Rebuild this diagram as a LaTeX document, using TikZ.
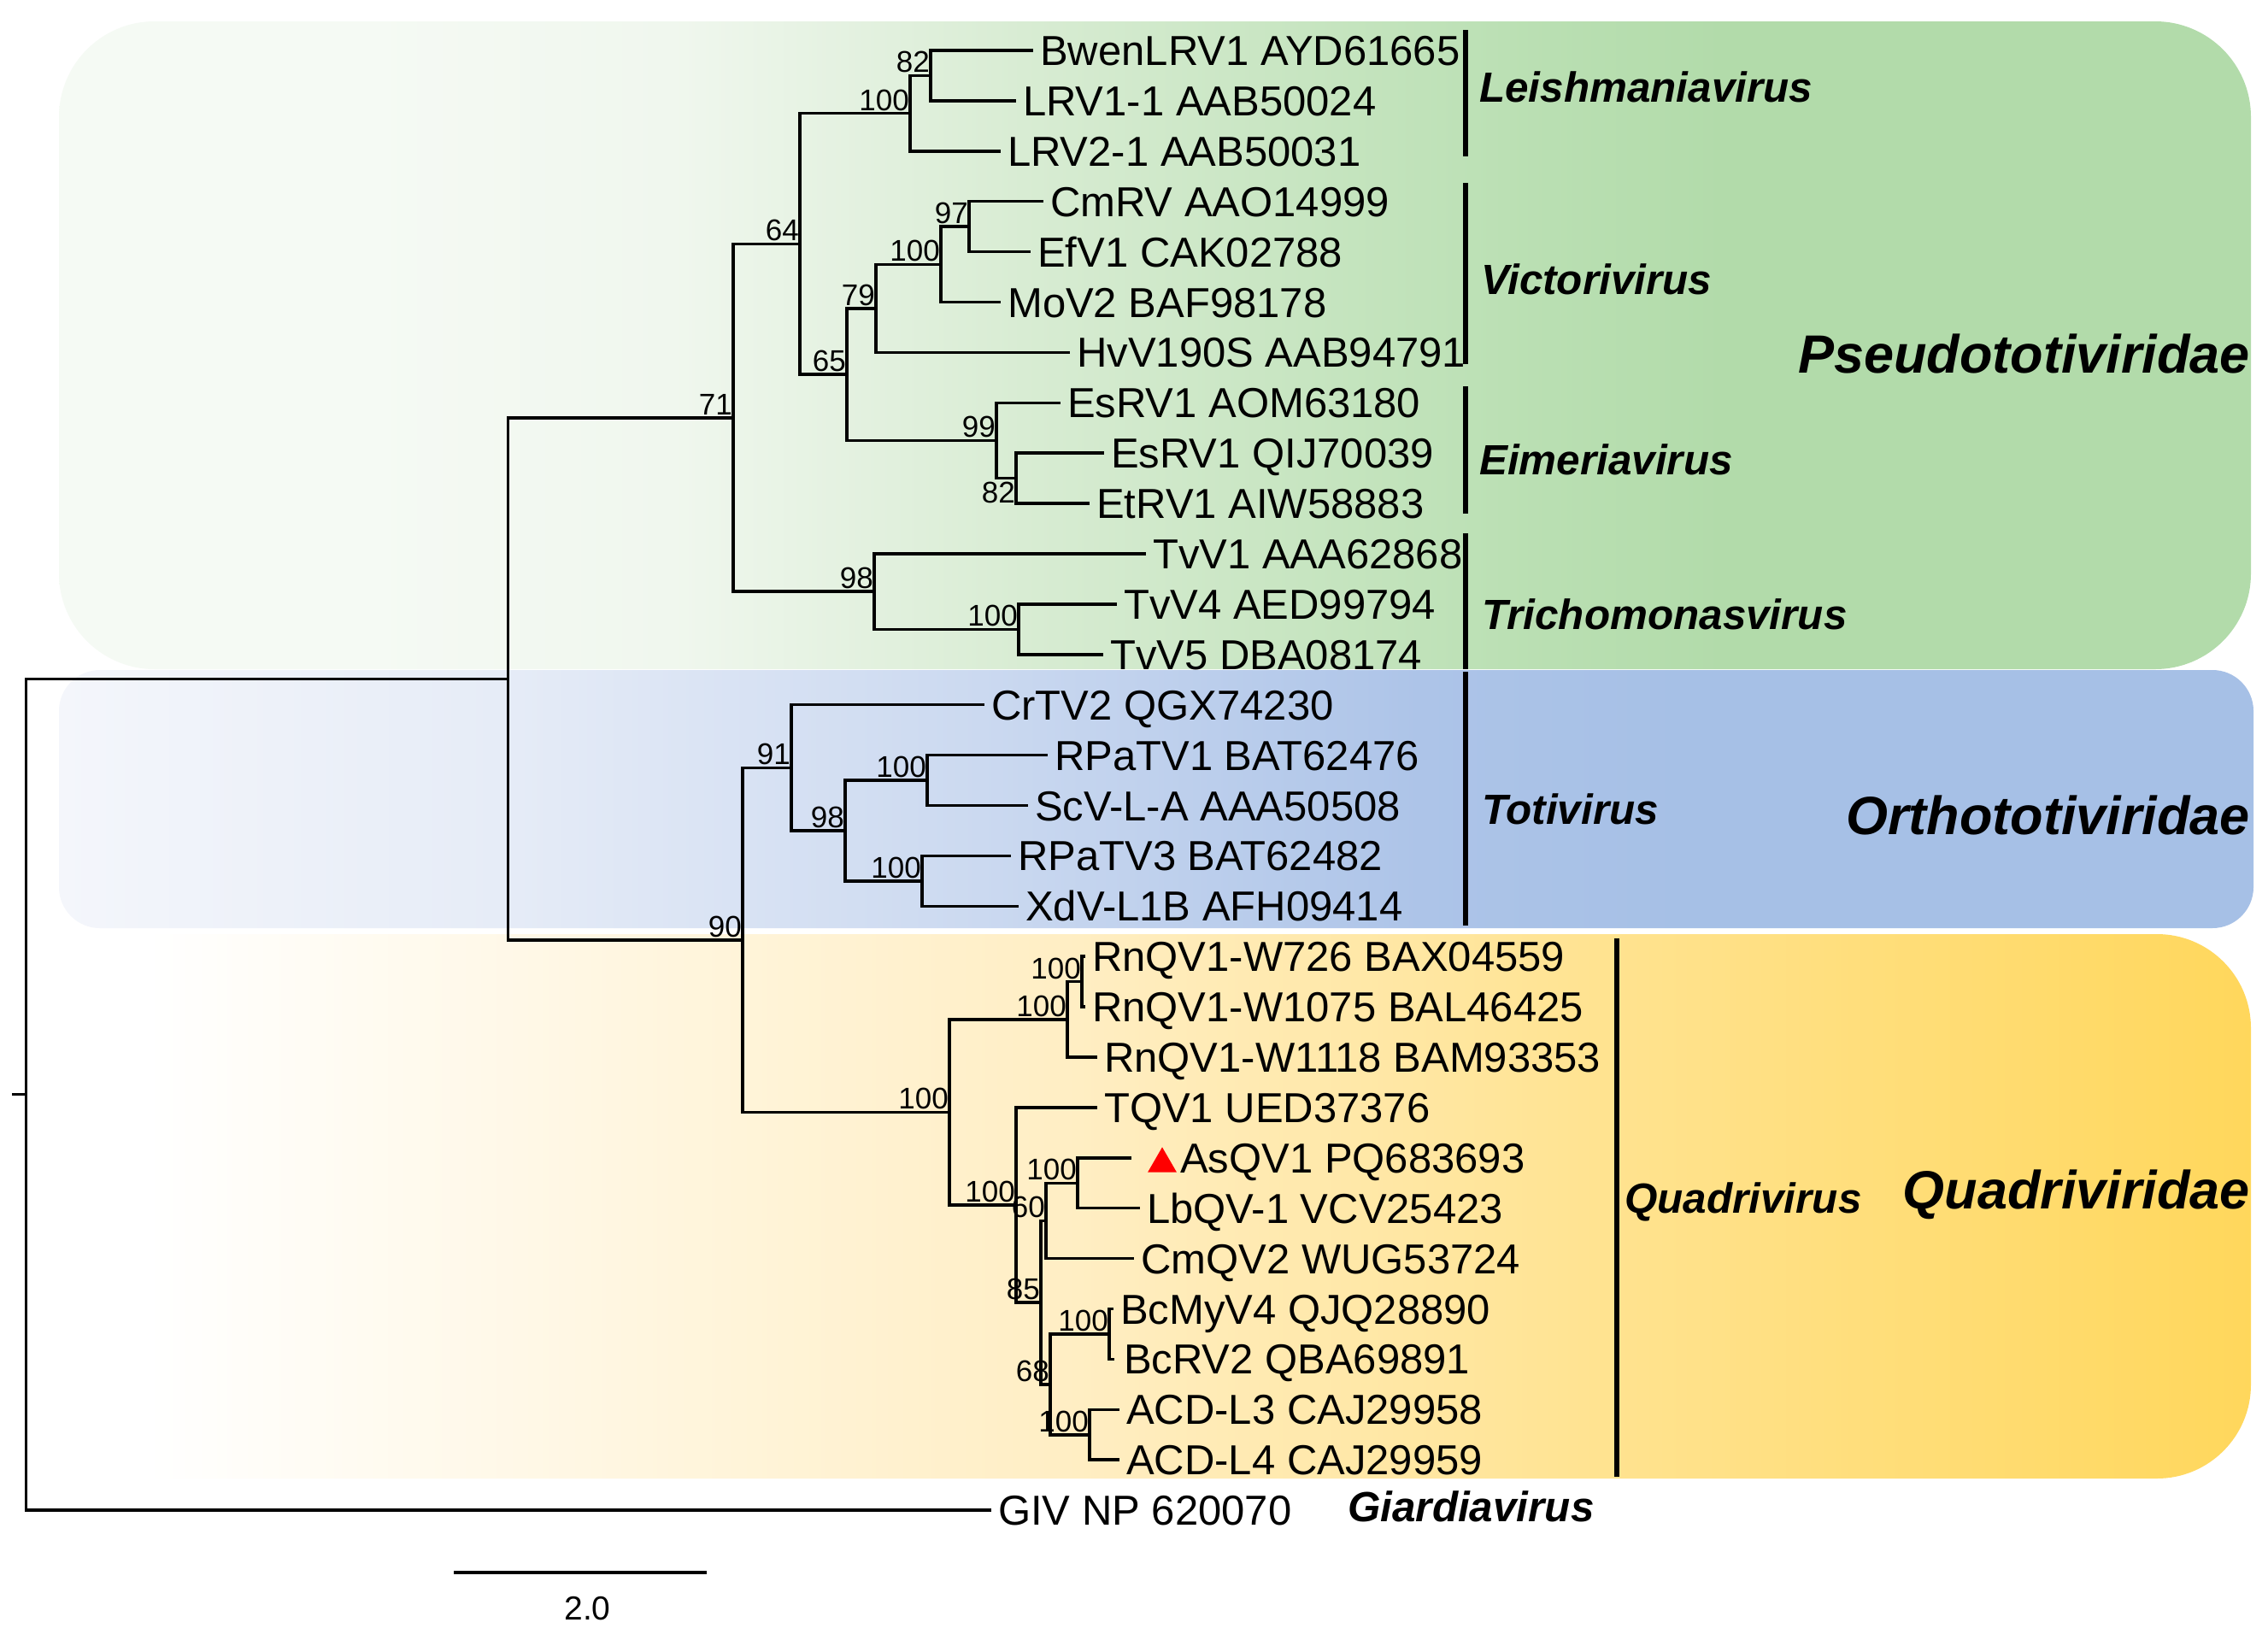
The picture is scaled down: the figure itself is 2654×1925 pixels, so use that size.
\documentclass[tikz,border=0pt]{standalone}
\usepackage{fontspec}
\setmainfont{Liberation Sans}
\usetikzlibrary{shapes.geometric}
\definecolor{gA}{HTML}{F5FAF4}
\definecolor{gB}{HTML}{F0F7EE}
\definecolor{gC}{HTML}{D8ECD3}
\definecolor{gD}{HTML}{BBE0B4}
\definecolor{gE}{HTML}{B2DBAA}
\definecolor{bA}{HTML}{F4F6FB}
\definecolor{bB}{HTML}{E6ECF7}
\definecolor{bC}{HTML}{CBD9F0}
\definecolor{bD}{HTML}{ADC4E8}
\definecolor{bE}{HTML}{A6C0E6}
\definecolor{yA}{HTML}{FFFFFF}
\definecolor{yB}{HTML}{FFF6E0}
\definecolor{yC}{HTML}{FFEEC4}
\definecolor{yD}{HTML}{FFE391}
\definecolor{yE}{HTML}{FFD75C}
\pgfdeclarehorizontalshading{greenshade}{100bp}{color(0bp)=(gA); color(32bp)=(gA); color(39bp)=(gB); color(47bp)=(gC); color(58bp)=(gD); color(63bp)=(gE); color(100bp)=(gE)}
\pgfdeclarehorizontalshading{blueshade}{100bp}{color(0bp)=(bA); color(25bp)=(bA); color(35bp)=(bB); color(46bp)=(bC); color(56bp)=(bD); color(62bp)=(bE); color(100bp)=(bE)}
\pgfdeclarehorizontalshading{yellowshade}{100bp}{color(0bp)=(yA); color(27bp)=(yA); color(38bp)=(yB); color(48bp)=(yC); color(60bp)=(yD); color(75bp)=(yE); color(100bp)=(yE)}
\begin{document}
\begin{tikzpicture}[x=1pt,y=-1pt,
  branch/.style={line width=3.5pt, line cap=rect},
  genbar/.style={line width=6.5pt},
  taxon/.style={font=\fontsize{49}{51}\selectfont, inner sep=0pt, anchor=base west},
  boot/.style={font=\fontsize{35}{37}\selectfont, inner xsep=1pt, inner ysep=3pt, anchor=south east},
  bootbelow/.style={font=\fontsize{35}{37}\selectfont, inner xsep=1pt, inner ysep=4pt, anchor=north east},
  genus/.style={font=\fontsize{49.4}{51}\selectfont\bfseries\itshape, inner sep=0pt, anchor=base west},
  family/.style={font=\fontsize{63}{65}\selectfont\bfseries\itshape, inner sep=0pt, anchor=base east},
  scalelbl/.style={font=\fontsize{39}{41}\selectfont, inner sep=0pt, anchor=base}]
\useasboundingbox (0,0) rectangle (2654,1925);
\fill[white] (0,0) rectangle (2654,1925);
% family backgrounds
\path[shading=greenshade, rounded corners=112pt] (69,25) rectangle (2634,783);
\path[shading=blueshade, rounded corners=48pt] (69,784) rectangle (2637,1086);
\path[shading=yellowshade, rounded corners=110pt] (69,1093) rectangle (2634,1730);
% tips
\coordinate (t1) at (1207,59);
\coordinate (t2) at (1187,117.9);
\coordinate (t3) at (1169,176.8);
\coordinate (t4) at (1219,235.7);
\coordinate (t5) at (1204,294.6);
\coordinate (t6) at (1169,353.5);
\coordinate (t7) at (1250,412.4);
\coordinate (t8) at (1239,471.3);
\coordinate (t9) at (1290,530.2);
\coordinate (t10) at (1273,589.1);
\coordinate (t11) at (1339,648);
\coordinate (t12) at (1305,706.9);
\coordinate (t13) at (1289,765.8);
\coordinate (t14) at (1150,824.7);
\coordinate (t15) at (1224,883.6);
\coordinate (t16) at (1201,942.5);
\coordinate (t17) at (1181,1001.4);
\coordinate (t18) at (1190,1060.3);
\coordinate (t19) at (1268,1119.2);
\coordinate (t20) at (1268,1178.1);
\coordinate (t21) at (1282,1237);
\coordinate (t22) at (1282,1295.9);
\coordinate (t23) at (1322,1354.8);
\coordinate (t24) at (1332,1413.7);
\coordinate (t25) at (1325,1472.6);
\coordinate (t26) at (1301,1531.5);
\coordinate (t27) at (1302,1590.4);
\coordinate (t28) at (1308,1649.3);
\coordinate (t29) at (1308,1708.2);
\coordinate (t30) at (1158,1767.1);
% internal nodes
\coordinate (stem) at (16,1280.7);
\coordinate (root) at (30.6,1280.7);
\coordinate (nA) at (594.4,794.3);
\coordinate (n71) at (858,488.8);
\coordinate (n64) at (936,285.4);
\coordinate (n100L) at (1065,132.6);
\coordinate (n82L) at (1089,88.45);
\coordinate (n65) at (991,438.2);
\coordinate (n79) at (1025,360.85);
\coordinate (n100V) at (1101,309.3);
\coordinate (n97) at (1134,265.15);
\coordinate (n99) at (1166,515.5);
\coordinate (n82E) at (1189,559.65);
\coordinate (n98T) at (1023,692.2);
\coordinate (n100T) at (1192,736.35);
\coordinate (n90) at (869,1099.85);
\coordinate (n91) at (926,898.3);
\coordinate (n98) at (989,971.95);
\coordinate (n100a) at (1085,913.05);
\coordinate (n100b) at (1079,1030.85);
\coordinate (n100Q) at (1111,1301.4);
\coordinate (n100R) at (1249,1192.8);
\coordinate (n100r2) at (1266,1148.65);
\coordinate (n100low) at (1189,1410);
\coordinate (n85) at (1218,1524.1);
\coordinate (n60) at (1224,1428.4);
\coordinate (n100As) at (1261,1384.25);
\coordinate (n68) at (1229,1619.85);
\coordinate (n100Bc) at (1298,1560.95);
\coordinate (n100ACD) at (1275,1678.75);
% branches
\draw[branch] (stem) -- (root);
\draw[branch] (root) |- (nA);   \draw[branch] (root) |- (t30);
\draw[branch] (nA) |- (n71);    \draw[branch] (nA) |- (n90);
\draw[branch] (n71) |- (n64);   \draw[branch] (n71) |- (n98T);
\draw[branch] (n64) |- (n100L); \draw[branch] (n64) |- (n65);
\draw[branch] (n100L) |- (n82L);\draw[branch] (n100L) |- (t3);
\draw[branch] (n82L) |- (t1);   \draw[branch] (n82L) |- (t2);
\draw[branch] (n65) |- (n79);   \draw[branch] (n65) |- (n99);
\draw[branch] (n79) |- (n100V); \draw[branch] (n79) |- (t7);
\draw[branch] (n100V) |- (n97); \draw[branch] (n100V) |- (t6);
\draw[branch] (n97) |- (t4);    \draw[branch] (n97) |- (t5);
\draw[branch] (n99) |- (t8);    \draw[branch] (n99) |- (n82E);
\draw[branch] (n82E) |- (t9);   \draw[branch] (n82E) |- (t10);
\draw[branch] (n98T) |- (t11);  \draw[branch] (n98T) |- (n100T);
\draw[branch] (n100T) |- (t12); \draw[branch] (n100T) |- (t13);
\draw[branch] (n90) |- (n91);   \draw[branch] (n90) |- (n100Q);
\draw[branch] (n91) |- (t14);   \draw[branch] (n91) |- (n98);
\draw[branch] (n98) |- (n100a); \draw[branch] (n98) |- (n100b);
\draw[branch] (n100a) |- (t15); \draw[branch] (n100a) |- (t16);
\draw[branch] (n100b) |- (t17); \draw[branch] (n100b) |- (t18);
\draw[branch] (n100Q) |- (n100R); \draw[branch] (n100Q) |- (n100low);
\draw[branch] (n100R) |- (n100r2); \draw[branch] (n100R) |- (t21);
\draw[branch] (n100r2) |- (t19); \draw[branch] (n100r2) |- (t20);
\draw[branch] (n100low) |- (t22); \draw[branch] (n100low) |- (n85);
\draw[branch] (n85) |- (n60);   \draw[branch] (n85) |- (n68);
\draw[branch] (n60) |- (n100As); \draw[branch] (n60) |- (t25);
\draw[branch] (n100As) |- (t23); \draw[branch] (n100As) |- (t24);
\draw[branch] (n68) |- (n100Bc); \draw[branch] (n68) |- (n100ACD);
\draw[branch] (n100Bc) |- (t26); \draw[branch] (n100Bc) |- (t27);
\draw[branch] (n100ACD) |- (t28); \draw[branch] (n100ACD) |- (t29);
% taxon labels
\node[taxon] (L1) at ([xshift=10pt,yshift=-17.5pt]t1) {BwenLRV1 AYD61665};
\node[taxon] (L2) at ([xshift=10pt,yshift=-17.5pt]t2) {LRV1-1 AAB50024};
\node[taxon] (L3) at ([xshift=10pt,yshift=-17.5pt]t3) {LRV2-1 AAB50031};
\node[taxon] (L4) at ([xshift=10pt,yshift=-17.5pt]t4) {CmRV AAO14999};
\node[taxon] (L5) at ([xshift=10pt,yshift=-17.5pt]t5) {EfV1 CAK02788};
\node[taxon] (L6) at ([xshift=10pt,yshift=-17.5pt]t6) {MoV2 BAF98178};
\node[taxon] (L7) at ([xshift=10pt,yshift=-17.5pt]t7) {HvV190S AAB94791};
\node[taxon] (L8) at ([xshift=10pt,yshift=-17.5pt]t8) {EsRV1 AOM63180};
\node[taxon] (L9) at ([xshift=10pt,yshift=-17.5pt]t9) {EsRV1 QIJ70039};
\node[taxon] (L10) at ([xshift=10pt,yshift=-17.5pt]t10) {EtRV1 AIW58883};
\node[taxon] (L11) at ([xshift=10pt,yshift=-17.5pt]t11) {TvV1 AAA62868};
\node[taxon] (L12) at ([xshift=10pt,yshift=-17.5pt]t12) {TvV4 AED99794};
\node[taxon] (L13) at ([xshift=10pt,yshift=-17.5pt]t13) {TvV5 DBA08174};
\node[taxon] (L14) at ([xshift=10pt,yshift=-17.5pt]t14) {CrTV2 QGX74230};
\node[taxon] (L15) at ([xshift=10pt,yshift=-17.5pt]t15) {RPaTV1 BAT62476};
\node[taxon] (L16) at ([xshift=10pt,yshift=-17.5pt]t16) {ScV-L-A AAA50508};
\node[taxon] (L17) at ([xshift=10pt,yshift=-17.5pt]t17) {RPaTV3 BAT62482};
\node[taxon] (L18) at ([xshift=10pt,yshift=-17.5pt]t18) {XdV-L1B AFH09414};
\node[taxon] (L19) at ([xshift=10pt,yshift=-17.5pt]t19) {RnQV1-W726 BAX04559};
\node[taxon] (L20) at ([xshift=10pt,yshift=-17.5pt]t20) {RnQV1-W1075 BAL46425};
\node[taxon] (L21) at ([xshift=10pt,yshift=-17.5pt]t21) {RnQV1-W1118 BAM93353};
\node[taxon] (L22) at ([xshift=10pt,yshift=-17.5pt]t22) {TQV1 UED37376};
\node[regular polygon, regular polygon sides=3, fill=red, inner sep=0pt, minimum size=39pt] (tri) at ([xshift=38pt,yshift=-7pt]t23) {};
\node[taxon] (L23) at ([xshift=59pt,yshift=-17.5pt]t23) {AsQV1 PQ683693};
\node[taxon] (L24) at ([xshift=10pt,yshift=-17.5pt]t24) {LbQV-1 VCV25423};
\node[taxon] (L25) at ([xshift=10pt,yshift=-17.5pt]t25) {CmQV2 WUG53724};
\node[taxon] (L26) at ([xshift=10pt,yshift=-17.5pt]t26) {BcMyV4 QJQ28890};
\node[taxon] (L27) at ([xshift=13pt,yshift=-17.5pt]t27) {BcRV2 QBA69891};
\node[taxon] (L28) at ([xshift=10pt,yshift=-17.5pt]t28) {ACD-L3 CAJ29958};
\node[taxon] (L29) at ([xshift=10pt,yshift=-17.5pt]t29) {ACD-L4 CAJ29959};
\node[taxon] (L30) at ([xshift=10pt,yshift=-17.5pt]t30) {GIV NP 620070};
% bootstrap values
\node[boot] (b1) at (n82L) {82};
\node[boot] (b2) at (n100L) {100};
\node[boot] (b3) at (n64) {64};
\node[boot] (b4) at (n97) {97};
\node[boot] (b5) at (n100V) {100};
\node[boot] (b6) at (n79) {79};
\node[boot] (b7) at (n65) {65};
\node[boot] (b8) at (n99) {99};
\node[bootbelow] (b9) at (n82E) {82};
\node[boot] (b10) at (n71) {71};
\node[boot] (b11) at (n98T) {98};
\node[boot] (b12) at (n100T) {100};
\node[boot] (b13) at (n91) {91};
\node[boot] (b14) at (n100a) {100};
\node[boot] (b15) at (n98) {98};
\node[boot] (b16) at (n100b) {100};
\node[boot] (b17) at (n90) {90};
\node[boot] (b18) at (n100r2) {100};
\node[boot] (b19) at (n100R) {100};
\node[boot] (b20) at (n100Q) {100};
\node[boot] (b21) at (n100As) {100};
\node[boot] (b22) at (n100low) {100};
\node[boot] (b23) at (n60) {60};
\node[boot] (b24) at (n85) {85};
\node[boot] (b25) at (n100Bc) {100};
\node[boot] (b26) at (n68) {68};
\node[boot] (b27) at (n100ACD) {100};
% genus bars
\coordinate (g1a) at (1715,35);   \coordinate (g1b) at (1715,183);
\coordinate (g2a) at (1715,214);  \coordinate (g2b) at (1715,426);
\coordinate (g3a) at (1715,452);  \coordinate (g3b) at (1715,601);
\coordinate (g4a) at (1715,624);  \coordinate (g4b) at (1715,783);
\coordinate (g5a) at (1715,786);  \coordinate (g5b) at (1715,1083);
\coordinate (g6a) at (1892,1098); \coordinate (g6b) at (1892,1728);
\draw[genbar] (g1a) -- (g1b);
\draw[genbar] (g2a) -- (g2b);
\draw[genbar] (g3a) -- (g3b);
\draw[genbar] (g4a) -- (g4b);
\draw[genbar] (g5a) -- (g5b);
\draw[genbar] (g6a) -- (g6b);
% genus labels
\node[genus] (G1) at (1731,119) {Leishmaniavirus};
\node[genus] (G2) at (1733,344) {Victorivirus};
\node[genus] (G3) at (1731,555) {Eimeriavirus};
\node[genus] (G4) at (1734,736) {Trichomonasvirus};
\node[genus] (G5) at (1734,964) {Totivirus};
\node[genus] (G6) at (1901,1419) {Quadrivirus};
\node[genus] (G7) at (1577,1780) {Giardiavirus};
% family labels
\node[family] (F1) at (2633,436) {Pseudototiviridae};
\node[family] (F2) at (2633,976) {Orthototiviridae};
\node[family] (F3) at (2633,1414) {Quadriviridae};
% scale bar
\coordinate (sb1) at (531,1840);
\coordinate (sb2) at (827,1840);
\draw[line width=4pt] (sb1) -- (sb2);
\node[scalelbl] (sbl) at (687.5,1895) {2.0};
\end{tikzpicture}
\end{document}
